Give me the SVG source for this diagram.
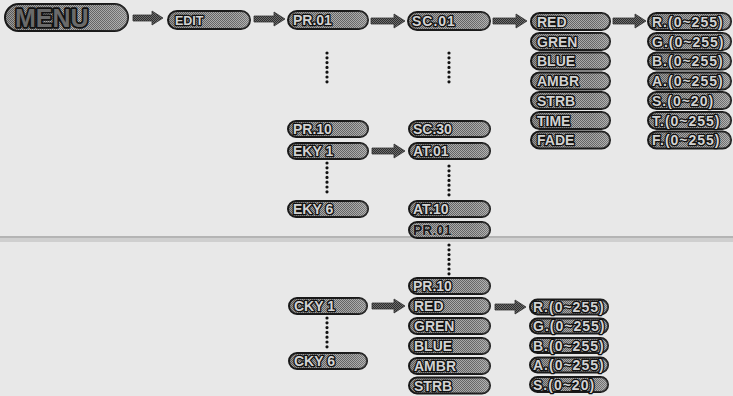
<svg xmlns="http://www.w3.org/2000/svg" width="733" height="396" viewBox="0 0 733 396">
<defs>
<pattern id="ht" patternUnits="userSpaceOnUse" width="2" height="2">
<rect width="2" height="2" fill="#acacac"/>
<rect width="1" height="1" fill="#666"/>
<rect x="1" y="1" width="1" height="1" fill="#666"/>
</pattern>
<pattern id="htd" patternUnits="userSpaceOnUse" width="2" height="2">
<rect width="2" height="2" fill="#6e6e6e"/>
<rect width="1" height="1" fill="#2e2e2e"/>
<rect x="1" y="1" width="1" height="1" fill="#2e2e2e"/>
</pattern>
<linearGradient id="sh" x1="0" y1="0" x2="1" y2="0">
<stop offset="0" stop-color="#000" stop-opacity="0.12"/>
<stop offset="0.6" stop-color="#000" stop-opacity="0"/>
<stop offset="1" stop-color="#fff" stop-opacity="0.15"/>
</linearGradient>
</defs>
<style>
.p{fill:url(#ht);stroke:#1a1a1a;stroke-width:2}
.g{fill:url(#sh);stroke:none}
.t{font-family:"Liberation Sans",Arial,sans-serif;font-weight:bold;font-size:14px;fill:#d2d2d2;stroke:#111;stroke-width:2.6px;paint-order:stroke;stroke-linejoin:round}
.v{letter-spacing:1px}
.dk{fill:#1a1a1a;stroke:#e6e6e6;stroke-width:0.6px}
.ar{fill:url(#htd);stroke:#333;stroke-width:0.8}
.dot{fill:none;stroke:#111;stroke-width:3.2;stroke-linecap:round;stroke-dasharray:0 4.8}
</style>
<rect width="733" height="396" fill="#e8e8e8"/>
<rect x="0" y="236" width="733" height="6" fill="#cfcfcf"/>
<line x1="0" y1="237" x2="733" y2="237" stroke="#9a9a9a" stroke-width="1.2"/>

<g id="connectors">
<polygon class="ar" points="133,15 152,15 152,11 163,18 152,25 152,21 133,21"/>
<polygon class="ar" points="254,16 274,16 274,12 285,19 274,26 274,22 254,22"/>
<polygon class="ar" points="371,18 394,18 394,14 405,21 394,28 394,24 371,24"/>
<polygon class="ar" points="493,18 516,18 516,14 527,21 516,28 516,24 493,24"/>
<polygon class="ar" points="613,18 635,18 635,14 646,21 635,28 635,24 613,24"/>
<polygon class="ar" points="372,148 394,148 394,144 405,151 394,158 394,154 372,154"/>
<polygon class="ar" points="372,303 394,303 394,299 405,306 394,313 394,309 372,309"/>
<polygon class="ar" points="495,304 515,304 515,300 526,307 515,314 515,310 495,310"/>
<line class="dot" x1="327" y1="53" x2="327" y2="86"/>
<line class="dot" x1="449" y1="53" x2="449" y2="86"/>
<line class="dot" x1="327" y1="163" x2="327" y2="196"/>
<line class="dot" x1="449" y1="166" x2="449" y2="197"/>
<line class="dot" x1="449" y1="245" x2="449" y2="275"/>
<line class="dot" x1="327" y1="318" x2="327" y2="348"/>
</g>

<g id="menu"><rect class="p" x="5" y="4" width="123" height="27" rx="13.5" stroke-width="2.4"/><rect class="g" x="5" y="4" width="123" height="27" rx="13.5"/><text class="t" x="15" y="27" style="font-size:25px;stroke-width:3.4px;fill:#6a6a6a">MENU</text></g>
<g id="edit"><rect class="p" x="168" y="11" width="82" height="18" rx="9"/><rect class="g" x="168" y="11" width="82" height="18" rx="9"/><text class="t" x="175" y="25" style="font-size:12.5px">EDIT</text></g>
<g id="pr01"><rect class="p" x="288" y="11" width="80" height="18" rx="9"/><rect class="g" x="288" y="11" width="80" height="18" rx="9"/><text class="t" x="293" y="25">PR.01</text></g>
<g id="sc01"><rect class="p" x="408" y="12" width="82" height="18" rx="9"/><rect class="g" x="408" y="12" width="82" height="18" rx="9"/><text class="t v" x="412" y="26">SC.01</text></g>

<g id="red1"><rect class="p" x="531" y="13" width="79" height="17" rx="8.5"/><rect class="g" x="531" y="13" width="79" height="17" rx="8.5"/><text class="t" x="537" y="26.5">RED</text></g>
<g id="gren1"><rect class="p" x="531" y="33" width="79" height="17" rx="8.5"/><rect class="g" x="531" y="33" width="79" height="17" rx="8.5"/><text class="t" x="537" y="46.5">GREN</text></g>
<g id="blue1"><rect class="p" x="531" y="52.5" width="79" height="17" rx="8.5"/><rect class="g" x="531" y="52.5" width="79" height="17" rx="8.5"/><text class="t" x="537" y="66">BLUE</text></g>
<g id="ambr1"><rect class="p" x="531" y="72.5" width="79" height="17" rx="8.5"/><rect class="g" x="531" y="72.5" width="79" height="17" rx="8.5"/><text class="t" x="537" y="86">AMBR</text></g>
<g id="strb1"><rect class="p" x="531" y="92" width="79" height="17" rx="8.5"/><rect class="g" x="531" y="92" width="79" height="17" rx="8.5"/><text class="t" x="537" y="105.5">STRB</text></g>
<g id="time1"><rect class="p" x="531" y="112" width="79" height="17" rx="8.5"/><rect class="g" x="531" y="112" width="79" height="17" rx="8.5"/><text class="t" x="537" y="125.5">TIME</text></g>
<g id="fade1"><rect class="p" x="531" y="131.5" width="79" height="17" rx="8.5"/><rect class="g" x="531" y="131.5" width="79" height="17" rx="8.5"/><text class="t" x="537" y="145">FADE</text></g>

<g id="r1"><rect class="p" x="648" y="13" width="83" height="17" rx="8.5"/><rect class="g" x="648" y="13" width="83" height="17" rx="8.5"/><text class="t v" x="652" y="26.5">R.(0~255)</text></g>
<g id="g1"><rect class="p" x="648" y="33" width="83" height="17" rx="8.5"/><rect class="g" x="648" y="33" width="83" height="17" rx="8.5"/><text class="t v" x="652" y="46.5">G.(0~255)</text></g>
<g id="b1"><rect class="p" x="648" y="52.5" width="83" height="17" rx="8.5"/><rect class="g" x="648" y="52.5" width="83" height="17" rx="8.5"/><text class="t v" x="652" y="66">B.(0~255)</text></g>
<g id="a1"><rect class="p" x="648" y="72.5" width="83" height="17" rx="8.5"/><rect class="g" x="648" y="72.5" width="83" height="17" rx="8.5"/><text class="t v" x="652" y="86">A.(0~255)</text></g>
<g id="s1"><rect class="p" x="648" y="92" width="83" height="17" rx="8.5"/><rect class="g" x="648" y="92" width="83" height="17" rx="8.5"/><text class="t v" x="652" y="105.5">S.(0~20)</text></g>
<g id="t1"><rect class="p" x="648" y="112" width="83" height="17" rx="8.5"/><rect class="g" x="648" y="112" width="83" height="17" rx="8.5"/><text class="t v" x="652" y="125.5">T.(0~255)</text></g>
<g id="f1"><rect class="p" x="648" y="131.5" width="83" height="17" rx="8.5"/><rect class="g" x="648" y="131.5" width="83" height="17" rx="8.5"/><text class="t v" x="652" y="145">F.(0~255)</text></g>

<g id="pr10"><rect class="p" x="288" y="121" width="80" height="16" rx="8"/><rect class="g" x="288" y="121" width="80" height="16" rx="8"/><text class="t" x="293" y="134">PR.10</text></g>
<g id="sc30"><rect class="p" x="409" y="121" width="81" height="16" rx="8"/><rect class="g" x="409" y="121" width="81" height="16" rx="8"/><text class="t" x="413" y="134">SC.30</text></g>
<g id="eky1"><rect class="p" x="288" y="143" width="80" height="16" rx="8"/><rect class="g" x="288" y="143" width="80" height="16" rx="8"/><text class="t" x="293" y="156">EKY 1</text></g>
<g id="at01"><rect class="p" x="409" y="143" width="81" height="16" rx="8"/><rect class="g" x="409" y="143" width="81" height="16" rx="8"/><text class="t" x="413" y="156">AT.01</text></g>
<g id="eky6"><rect class="p" x="288" y="201" width="80" height="16" rx="8"/><rect class="g" x="288" y="201" width="80" height="16" rx="8"/><text class="t" x="293" y="214">EKY 6</text></g>
<g id="at10"><rect class="p" x="409" y="201" width="81" height="16" rx="8"/><rect class="g" x="409" y="201" width="81" height="16" rx="8"/><text class="t" x="413" y="214">AT.10</text></g>
<g id="pr01b"><rect class="p" x="409" y="222" width="81" height="16" rx="8"/><rect class="g" x="409" y="222" width="81" height="16" rx="8"/><text class="t dk" x="413" y="235">PR.01</text></g>

<g id="pr10b"><rect class="p" x="409" y="278" width="81" height="16" rx="8"/><rect class="g" x="409" y="278" width="81" height="16" rx="8"/><text class="t" x="413" y="291">PR.10</text></g>
<g id="cky1"><rect class="p" x="289" y="298" width="78" height="16" rx="8"/><rect class="g" x="289" y="298" width="78" height="16" rx="8"/><text class="t" x="294" y="311">CKY 1</text></g>
<g id="cky6"><rect class="p" x="289" y="353" width="78" height="16" rx="8"/><rect class="g" x="289" y="353" width="78" height="16" rx="8"/><text class="t" x="294" y="366">CKY 6</text></g>
<g id="red2"><rect class="p" x="409" y="298" width="81" height="16" rx="8"/><rect class="g" x="409" y="298" width="81" height="16" rx="8"/><text class="t" x="414" y="311">RED</text></g>
<g id="gren2"><rect class="p" x="409" y="318" width="81" height="16" rx="8"/><rect class="g" x="409" y="318" width="81" height="16" rx="8"/><text class="t" x="414" y="331">GREN</text></g>
<g id="blue2"><rect class="p" x="409" y="338" width="81" height="16" rx="8"/><rect class="g" x="409" y="338" width="81" height="16" rx="8"/><text class="t" x="414" y="351">BLUE</text></g>
<g id="ambr2"><rect class="p" x="409" y="358" width="81" height="16" rx="8"/><rect class="g" x="409" y="358" width="81" height="16" rx="8"/><text class="t" x="414" y="371">AMBR</text></g>
<g id="strb2"><rect class="p" x="409" y="377.5" width="81" height="16" rx="8"/><rect class="g" x="409" y="377.5" width="81" height="16" rx="8"/><text class="t" x="414" y="390.5">STRB</text></g>

<g id="r2"><rect class="p" x="530" y="299.5" width="78" height="15" rx="7.5"/><rect class="g" x="530" y="299.5" width="78" height="15" rx="7.5"/><text class="t v" x="533" y="312">R.(0~255)</text></g>
<g id="g2"><rect class="p" x="530" y="318.5" width="78" height="15" rx="7.5"/><rect class="g" x="530" y="318.5" width="78" height="15" rx="7.5"/><text class="t v" x="533" y="331">G.(0~255)</text></g>
<g id="b2"><rect class="p" x="530" y="338" width="78" height="15" rx="7.5"/><rect class="g" x="530" y="338" width="78" height="15" rx="7.5"/><text class="t v" x="533" y="350.5">B.(0~255)</text></g>
<g id="a2"><rect class="p" x="530" y="357.5" width="78" height="15" rx="7.5"/><rect class="g" x="530" y="357.5" width="78" height="15" rx="7.5"/><text class="t v" x="533" y="370">A.(0~255)</text></g>
<g id="s2"><rect class="p" x="530" y="377" width="78" height="15" rx="7.5"/><rect class="g" x="530" y="377" width="78" height="15" rx="7.5"/><text class="t v" x="533" y="389.5">S.(0~20)</text></g>
</svg>
